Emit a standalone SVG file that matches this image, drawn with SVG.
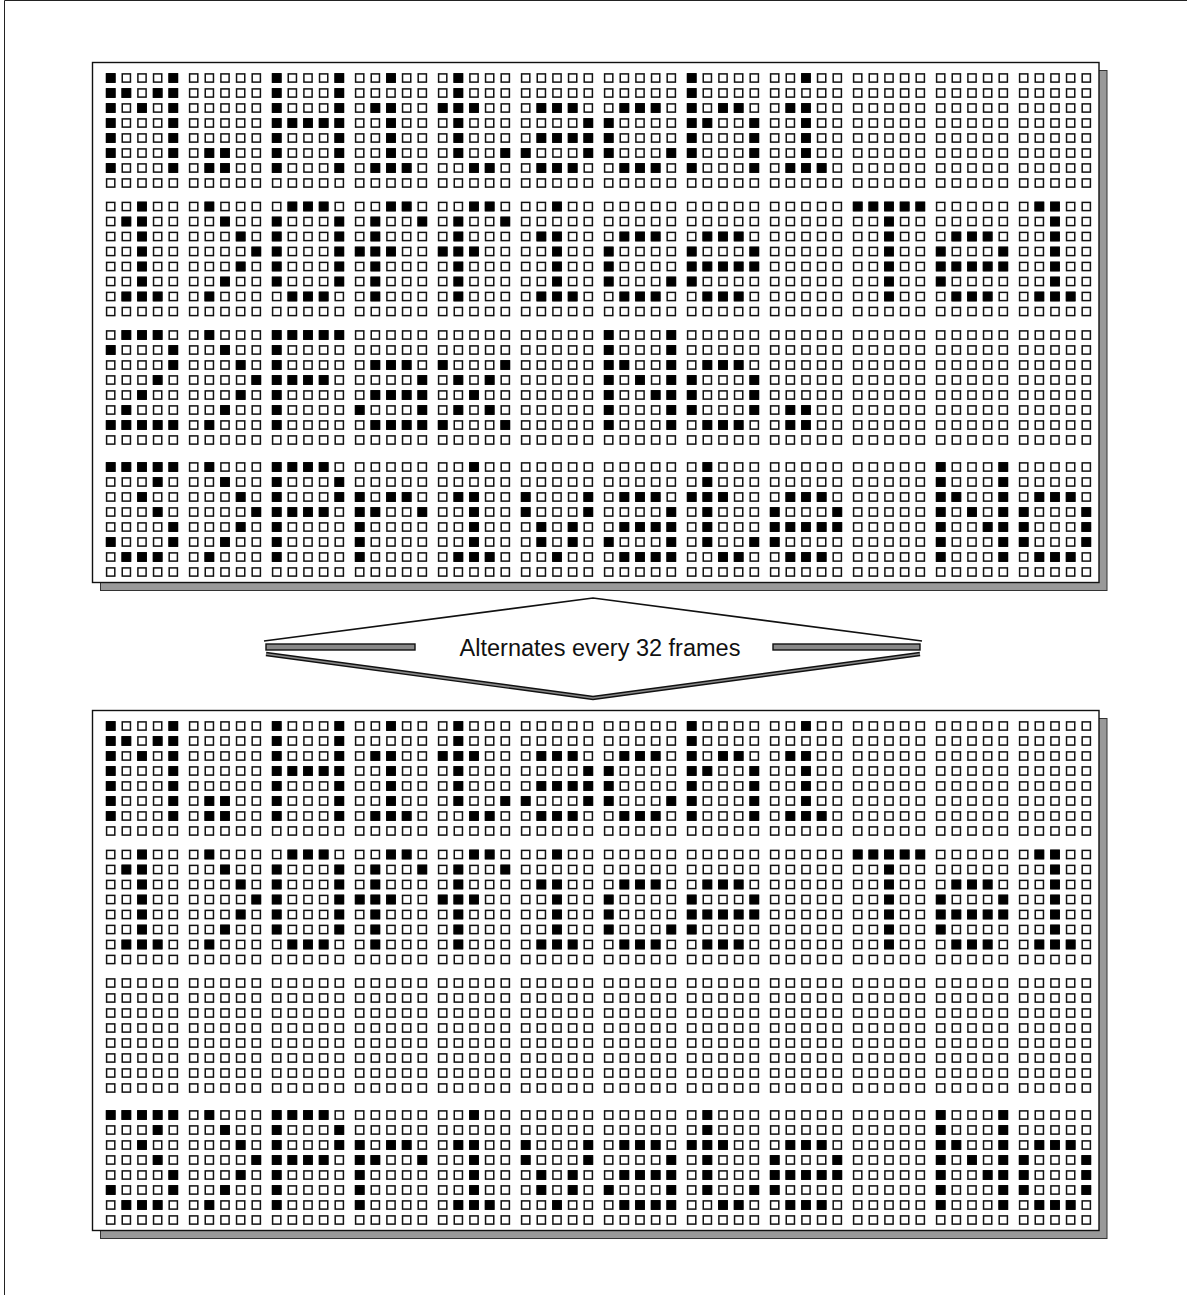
<svg xmlns="http://www.w3.org/2000/svg" xmlns:xlink="http://www.w3.org/1999/xlink" width="1187" height="1295" viewBox="0 0 1187 1295">
<style>
.d{fill:#fff;stroke:#111;stroke-width:1.5}
.k{fill:#000;stroke:#000;stroke-width:1.5}
.panel{fill:#fff;stroke:#111;stroke-width:1.4}
.shadow{fill:#999;stroke:#333;stroke-width:1}
.lbl{font-family:"Liberation Sans",Arial,sans-serif;font-size:23.5px;fill:#111}
</style>
<defs>
<rect id="k" class="k" x="-4.1" y="-4.1" width="8.2" height="8.2"/>
<g id="row5">
<rect class="d" x="-4.1" y="-4.1" width="8.2" height="8.2"/>
<rect class="d" x="11.55" y="-4.1" width="8.2" height="8.2"/>
<rect class="d" x="27.2" y="-4.1" width="8.2" height="8.2"/>
<rect class="d" x="42.85" y="-4.1" width="8.2" height="8.2"/>
<rect class="d" x="58.5" y="-4.1" width="8.2" height="8.2"/>
</g>
<g id="cell">
<use href="#row5"/><use href="#row5" y="15"/><use href="#row5" y="30"/><use href="#row5" y="45"/>
<use href="#row5" y="60"/><use href="#row5" y="75"/><use href="#row5" y="90"/><use href="#row5" y="105"/>
</g>
<g id="g-M"><use href="#cell"/>
<use href="#k"/><use href="#k" x="62.6"/>
<use href="#k" y="15"/><use href="#k" x="15.65" y="15"/><use href="#k" x="46.95" y="15"/><use href="#k" x="62.6" y="15"/>
<use href="#k" y="30"/><use href="#k" x="31.3" y="30"/><use href="#k" x="62.6" y="30"/>
<use href="#k" y="45"/><use href="#k" x="62.6" y="45"/>
<use href="#k" y="60"/><use href="#k" x="62.6" y="60"/>
<use href="#k" y="75"/><use href="#k" x="62.6" y="75"/>
<use href="#k" y="90"/><use href="#k" x="62.6" y="90"/>
</g>
<g id="g-dot"><use href="#cell"/>
<use href="#k" x="15.65" y="75"/><use href="#k" x="31.3" y="75"/>
<use href="#k" x="15.65" y="90"/><use href="#k" x="31.3" y="90"/>
</g>
<g id="g-H"><use href="#cell"/>
<use href="#k"/><use href="#k" x="62.6"/>
<use href="#k" y="15"/><use href="#k" x="62.6" y="15"/>
<use href="#k" y="30"/><use href="#k" x="62.6" y="30"/>
<use href="#k" y="45"/><use href="#k" x="15.65" y="45"/><use href="#k" x="31.3" y="45"/><use href="#k" x="46.95" y="45"/><use href="#k" x="62.6" y="45"/>
<use href="#k" y="60"/><use href="#k" x="62.6" y="60"/>
<use href="#k" y="75"/><use href="#k" x="62.6" y="75"/>
<use href="#k" y="90"/><use href="#k" x="62.6" y="90"/>
</g>
<g id="g-i"><use href="#cell"/>
<use href="#k" x="31.3"/>
<use href="#k" x="15.65" y="30"/><use href="#k" x="31.3" y="30"/>
<use href="#k" x="31.3" y="45"/><use href="#k" x="31.3" y="60"/><use href="#k" x="31.3" y="75"/>
<use href="#k" x="15.65" y="90"/><use href="#k" x="31.3" y="90"/><use href="#k" x="46.95" y="90"/>
</g>
<g id="g-t"><use href="#cell"/>
<use href="#k" x="15.65"/><use href="#k" x="15.65" y="15"/>
<use href="#k" y="30"/><use href="#k" x="15.65" y="30"/><use href="#k" x="31.3" y="30"/>
<use href="#k" x="15.65" y="45"/><use href="#k" x="15.65" y="60"/>
<use href="#k" x="15.65" y="75"/><use href="#k" x="62.6" y="75"/>
<use href="#k" x="31.3" y="90"/><use href="#k" x="46.95" y="90"/>
</g>
<g id="g-a"><use href="#cell"/>
<use href="#k" x="15.65" y="30"/><use href="#k" x="31.3" y="30"/><use href="#k" x="46.95" y="30"/>
<use href="#k" x="62.6" y="45"/>
<use href="#k" x="15.65" y="60"/><use href="#k" x="31.3" y="60"/><use href="#k" x="46.95" y="60"/><use href="#k" x="62.6" y="60"/>
<use href="#k" y="75"/><use href="#k" x="62.6" y="75"/>
<use href="#k" x="15.65" y="90"/><use href="#k" x="31.3" y="90"/><use href="#k" x="46.95" y="90"/>
</g>
<g id="g-a2"><use href="#cell"/>
<use href="#k" x="15.65" y="30"/><use href="#k" x="31.3" y="30"/><use href="#k" x="46.95" y="30"/>
<use href="#k" x="62.6" y="45"/>
<use href="#k" x="15.65" y="60"/><use href="#k" x="31.3" y="60"/><use href="#k" x="46.95" y="60"/><use href="#k" x="62.6" y="60"/>
<use href="#k" y="75"/><use href="#k" x="62.6" y="75"/>
<use href="#k" x="15.65" y="90"/><use href="#k" x="31.3" y="90"/><use href="#k" x="46.95" y="90"/><use href="#k" x="62.6" y="90"/>
</g>
<g id="g-c"><use href="#cell"/>
<use href="#k" x="15.65" y="30"/><use href="#k" x="31.3" y="30"/><use href="#k" x="46.95" y="30"/>
<use href="#k" y="45"/><use href="#k" y="60"/>
<use href="#k" y="75"/><use href="#k" x="62.6" y="75"/>
<use href="#k" x="15.65" y="90"/><use href="#k" x="31.3" y="90"/><use href="#k" x="46.95" y="90"/>
</g>
<g id="g-h"><use href="#cell"/>
<use href="#k"/><use href="#k" y="15"/>
<use href="#k" y="30"/><use href="#k" x="31.3" y="30"/><use href="#k" x="46.95" y="30"/>
<use href="#k" y="45"/><use href="#k" x="15.65" y="45"/><use href="#k" x="62.6" y="45"/>
<use href="#k" y="60"/><use href="#k" x="62.6" y="60"/>
<use href="#k" y="75"/><use href="#k" x="62.6" y="75"/>
<use href="#k" y="90"/><use href="#k" x="62.6" y="90"/>
</g>
<g id="g-1"><use href="#cell"/>
<use href="#k" x="31.3"/>
<use href="#k" x="15.65" y="15"/><use href="#k" x="31.3" y="15"/>
<use href="#k" x="31.3" y="30"/><use href="#k" x="31.3" y="45"/><use href="#k" x="31.3" y="60"/><use href="#k" x="31.3" y="75"/>
<use href="#k" x="15.65" y="90"/><use href="#k" x="31.3" y="90"/><use href="#k" x="46.95" y="90"/>
</g>
<g id="g-gt"><use href="#cell"/>
<use href="#k" x="15.65"/><use href="#k" x="31.3" y="15"/><use href="#k" x="46.95" y="30"/>
<use href="#k" x="62.6" y="45"/><use href="#k" x="46.95" y="60"/><use href="#k" x="31.3" y="75"/><use href="#k" x="15.65" y="90"/>
</g>
<g id="g-O"><use href="#cell"/>
<use href="#k" x="15.65"/><use href="#k" x="31.3"/><use href="#k" x="46.95"/>
<use href="#k" y="15"/><use href="#k" x="62.6" y="15"/>
<use href="#k" y="30"/><use href="#k" x="62.6" y="30"/>
<use href="#k" y="45"/><use href="#k" x="62.6" y="45"/>
<use href="#k" y="60"/><use href="#k" x="62.6" y="60"/>
<use href="#k" y="75"/><use href="#k" x="62.6" y="75"/>
<use href="#k" x="15.65" y="90"/><use href="#k" x="31.3" y="90"/><use href="#k" x="46.95" y="90"/>
</g>
<g id="g-f"><use href="#cell"/>
<use href="#k" x="31.3"/><use href="#k" x="46.95"/>
<use href="#k" x="15.65" y="15"/><use href="#k" x="62.6" y="15"/>
<use href="#k" x="15.65" y="30"/>
<use href="#k" y="45"/><use href="#k" x="15.65" y="45"/><use href="#k" x="31.3" y="45"/>
<use href="#k" x="15.65" y="60"/><use href="#k" x="15.65" y="75"/><use href="#k" x="15.65" y="90"/>
</g>
<g id="g-e"><use href="#cell"/>
<use href="#k" x="15.65" y="30"/><use href="#k" x="31.3" y="30"/><use href="#k" x="46.95" y="30"/>
<use href="#k" y="45"/><use href="#k" x="62.6" y="45"/>
<use href="#k" y="60"/><use href="#k" x="15.65" y="60"/><use href="#k" x="31.3" y="60"/><use href="#k" x="46.95" y="60"/><use href="#k" x="62.6" y="60"/>
<use href="#k" y="75"/>
<use href="#k" x="15.65" y="90"/><use href="#k" x="31.3" y="90"/><use href="#k" x="46.95" y="90"/>
</g>
<g id="g-T"><use href="#cell"/>
<use href="#k"/><use href="#k" x="15.65"/><use href="#k" x="31.3"/><use href="#k" x="46.95"/><use href="#k" x="62.6"/>
<use href="#k" x="31.3" y="15"/><use href="#k" x="31.3" y="30"/><use href="#k" x="31.3" y="45"/>
<use href="#k" x="31.3" y="60"/><use href="#k" x="31.3" y="75"/><use href="#k" x="31.3" y="90"/>
</g>
<g id="g-l"><use href="#cell"/>
<use href="#k" x="15.65"/><use href="#k" x="31.3"/>
<use href="#k" x="31.3" y="15"/><use href="#k" x="31.3" y="30"/><use href="#k" x="31.3" y="45"/>
<use href="#k" x="31.3" y="60"/><use href="#k" x="31.3" y="75"/>
<use href="#k" x="15.65" y="90"/><use href="#k" x="31.3" y="90"/><use href="#k" x="46.95" y="90"/>
</g>
<g id="g-2"><use href="#cell"/>
<use href="#k" x="15.65"/><use href="#k" x="31.3"/><use href="#k" x="46.95"/>
<use href="#k" y="15"/><use href="#k" x="62.6" y="15"/>
<use href="#k" x="62.6" y="30"/><use href="#k" x="46.95" y="45"/><use href="#k" x="31.3" y="60"/><use href="#k" x="15.65" y="75"/>
<use href="#k" y="90"/><use href="#k" x="15.65" y="90"/><use href="#k" x="31.3" y="90"/><use href="#k" x="46.95" y="90"/><use href="#k" x="62.6" y="90"/>
</g>
<g id="g-F"><use href="#cell"/>
<use href="#k"/><use href="#k" x="15.65"/><use href="#k" x="31.3"/><use href="#k" x="46.95"/><use href="#k" x="62.6"/>
<use href="#k" y="15"/><use href="#k" y="30"/>
<use href="#k" y="45"/><use href="#k" x="15.65" y="45"/><use href="#k" x="31.3" y="45"/><use href="#k" x="46.95" y="45"/>
<use href="#k" y="60"/><use href="#k" y="75"/><use href="#k" y="90"/>
</g>
<g id="g-x"><use href="#cell"/>
<use href="#k" y="30"/><use href="#k" x="62.6" y="30"/>
<use href="#k" x="15.65" y="45"/><use href="#k" x="46.95" y="45"/>
<use href="#k" x="31.3" y="60"/>
<use href="#k" x="15.65" y="75"/><use href="#k" x="46.95" y="75"/>
<use href="#k" y="90"/><use href="#k" x="62.6" y="90"/>
</g>
<g id="g-N"><use href="#cell"/>
<use href="#k"/><use href="#k" x="62.6"/>
<use href="#k" y="15"/><use href="#k" x="62.6" y="15"/>
<use href="#k" y="30"/><use href="#k" x="15.65" y="30"/><use href="#k" x="62.6" y="30"/>
<use href="#k" y="45"/><use href="#k" x="31.3" y="45"/><use href="#k" x="62.6" y="45"/>
<use href="#k" y="60"/><use href="#k" x="46.95" y="60"/><use href="#k" x="62.6" y="60"/>
<use href="#k" y="75"/><use href="#k" x="62.6" y="75"/>
<use href="#k" y="90"/><use href="#k" x="62.6" y="90"/>
</g>
<g id="g-o"><use href="#cell"/>
<use href="#k" x="15.65" y="30"/><use href="#k" x="31.3" y="30"/><use href="#k" x="46.95" y="30"/>
<use href="#k" y="45"/><use href="#k" x="62.6" y="45"/>
<use href="#k" y="60"/><use href="#k" x="62.6" y="60"/>
<use href="#k" y="75"/><use href="#k" x="62.6" y="75"/>
<use href="#k" x="15.65" y="90"/><use href="#k" x="31.3" y="90"/><use href="#k" x="46.95" y="90"/>
</g>
<g id="g-3"><use href="#cell"/>
<use href="#k"/><use href="#k" x="15.65"/><use href="#k" x="31.3"/><use href="#k" x="46.95"/><use href="#k" x="62.6"/>
<use href="#k" x="46.95" y="15"/><use href="#k" x="31.3" y="30"/><use href="#k" x="46.95" y="45"/><use href="#k" x="62.6" y="60"/>
<use href="#k" y="75"/><use href="#k" x="62.6" y="75"/>
<use href="#k" x="15.65" y="90"/><use href="#k" x="31.3" y="90"/><use href="#k" x="46.95" y="90"/>
</g>
<g id="g-P"><use href="#cell"/>
<use href="#k"/><use href="#k" x="15.65"/><use href="#k" x="31.3"/><use href="#k" x="46.95"/>
<use href="#k" y="15"/><use href="#k" x="62.6" y="15"/>
<use href="#k" y="30"/><use href="#k" x="62.6" y="30"/>
<use href="#k" y="45"/><use href="#k" x="15.65" y="45"/><use href="#k" x="31.3" y="45"/><use href="#k" x="46.95" y="45"/>
<use href="#k" y="60"/><use href="#k" y="75"/><use href="#k" y="90"/>
</g>
<g id="g-r"><use href="#cell"/>
<use href="#k" y="30"/><use href="#k" x="31.3" y="30"/><use href="#k" x="46.95" y="30"/>
<use href="#k" y="45"/><use href="#k" x="15.65" y="45"/><use href="#k" x="62.6" y="45"/>
<use href="#k" y="60"/><use href="#k" y="75"/><use href="#k" y="90"/>
</g>
<g id="g-v"><use href="#cell"/>
<use href="#k" y="30"/><use href="#k" x="62.6" y="30"/>
<use href="#k" y="45"/><use href="#k" x="62.6" y="45"/>
<use href="#k" x="15.65" y="60"/><use href="#k" x="46.95" y="60"/>
<use href="#k" x="15.65" y="75"/><use href="#k" x="46.95" y="75"/>
<use href="#k" x="31.3" y="90"/>
</g>
</defs>

<rect x="0" y="0" width="1187" height="1295" fill="#fff"/>
<path d="M4.5 1295V0.5H1187" fill="none" stroke="#222" stroke-width="1"/>

<g id="display-frame-a">
<rect class="shadow" x="100.5" y="70.5" width="1006.5" height="520"/>
<rect class="panel" x="92.5" y="62.5" width="1006.5" height="520"/>
<g id="a-line1">
<use href="#g-M" x="110.7" y="78"/><use href="#g-dot" x="193.7" y="78"/><use href="#g-H" x="276.7" y="78"/><use href="#g-i" x="359.7" y="78"/>
<use href="#g-t" x="442.7" y="78"/><use href="#g-a" x="525.7" y="78"/><use href="#g-c" x="608.7" y="78"/><use href="#g-h" x="691.7" y="78"/>
<use href="#g-i" x="774.7" y="78"/><use href="#cell" x="857.7" y="78"/><use href="#cell" x="940.7" y="78"/><use href="#cell" x="1023.7" y="78"/>
</g>
<g id="a-line2">
<use href="#g-1" x="110.7" y="206.5"/><use href="#g-gt" x="193.7" y="206.5"/><use href="#g-O" x="276.7" y="206.5"/><use href="#g-f" x="359.7" y="206.5"/>
<use href="#g-f" x="442.7" y="206.5"/><use href="#g-i" x="525.7" y="206.5"/><use href="#g-c" x="608.7" y="206.5"/><use href="#g-e" x="691.7" y="206.5"/>
<use href="#cell" x="774.7" y="206.5"/><use href="#g-T" x="857.7" y="206.5"/><use href="#g-e" x="940.7" y="206.5"/><use href="#g-l" x="1023.7" y="206.5"/>
</g>
<g id="a-line3">
<use href="#g-2" x="110.7" y="335"/><use href="#g-gt" x="193.7" y="335"/><use href="#g-F" x="276.7" y="335"/><use href="#g-a2" x="359.7" y="335"/>
<use href="#g-x" x="442.7" y="335"/><use href="#cell" x="525.7" y="335"/><use href="#g-N" x="608.7" y="335"/><use href="#g-o" x="691.7" y="335"/>
<use href="#g-dot" x="774.7" y="335"/><use href="#cell" x="857.7" y="335"/><use href="#cell" x="940.7" y="335"/><use href="#cell" x="1023.7" y="335"/>
</g>
<g id="a-line4">
<use href="#g-3" x="110.7" y="467"/><use href="#g-gt" x="193.7" y="467"/><use href="#g-P" x="276.7" y="467"/><use href="#g-r" x="359.7" y="467"/>
<use href="#g-i" x="442.7" y="467"/><use href="#g-v" x="525.7" y="467"/><use href="#g-a2" x="608.7" y="467"/><use href="#g-t" x="691.7" y="467"/>
<use href="#g-e" x="774.7" y="467"/><use href="#cell" x="857.7" y="467"/><use href="#g-N" x="940.7" y="467"/><use href="#g-o" x="1023.7" y="467"/>
</g>
</g>

<g id="display-frame-b">
<rect class="shadow" x="100.5" y="718.5" width="1006.5" height="520"/>
<rect class="panel" x="92.5" y="710.5" width="1006.5" height="520"/>
<use href="#a-line1" y="648"/>
<use href="#a-line2" y="648"/>
<g id="b-line3">
<use href="#cell" x="110.7" y="983"/><use href="#cell" x="193.7" y="983"/><use href="#cell" x="276.7" y="983"/><use href="#cell" x="359.7" y="983"/>
<use href="#cell" x="442.7" y="983"/><use href="#cell" x="525.7" y="983"/><use href="#cell" x="608.7" y="983"/><use href="#cell" x="691.7" y="983"/>
<use href="#cell" x="774.7" y="983"/><use href="#cell" x="857.7" y="983"/><use href="#cell" x="940.7" y="983"/><use href="#cell" x="1023.7" y="983"/>
</g>
<use href="#a-line4" y="648"/>
</g>

<g id="connectors">
<g id="alternates-arrow">
<polyline points="264,641 593,598 922,641" fill="none" stroke="#111" stroke-width="1.7"/>
<polyline points="266,654 593,698 920,654" fill="none" stroke="#111" stroke-width="4.4"/>
<polyline points="266,654 593,698 920,654" fill="none" stroke="#888" stroke-width="1.6"/>
<rect x="266" y="644" width="149" height="6" fill="#888" stroke="#111" stroke-width="1.4"/>
<rect x="773" y="644" width="147" height="6" fill="#888" stroke="#111" stroke-width="1.4"/>
<text class="lbl" x="600" y="656" text-anchor="middle">Alternates every 32 frames</text>
</g>
</g>
</svg>
